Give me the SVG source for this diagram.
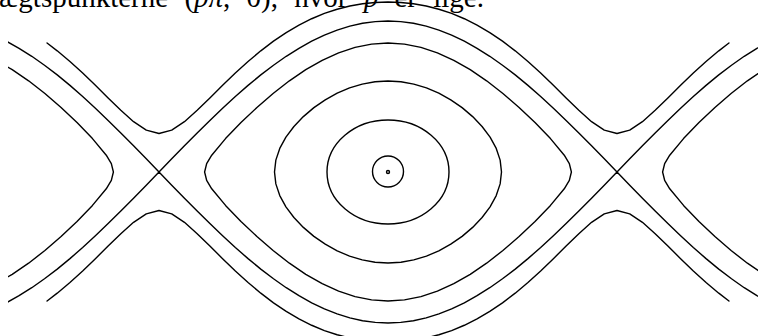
<svg xmlns="http://www.w3.org/2000/svg" width="758" height="336" viewBox="0 0 758 336">
<style>
.c{fill:none;stroke:#000;stroke-width:1.4;stroke-linejoin:round;stroke-linecap:round}
.t{font-family:"Liberation Serif","Times New Roman",serif;font-size:29px;word-spacing:9px;fill:#000}
.i{font-style:italic}
</style>
<defs>
<clipPath id="clip"><rect x="8" y="0" width="760" height="336"/></clipPath>
<path id="e5" d="M0,-129 L16.47,-127.9 L32.93,-124.6 L49.38,-119.2 L65.81,-111.7 L82.22,-102.3 L98.6,-91.2 L114.9,-78.5 L131.07,-64.5 L147.02,-49.4 L162.47,-33.4 L176.27,-16.8 L181.34,-8.44 L183.4,0 L181.34,8.44 L176.27,16.8 L162.47,33.4 L147.02,49.4 L131.07,64.5 L114.9,78.5 L98.6,91.2 L82.22,102.3 L65.81,111.7 L49.38,119.2 L32.93,124.6 L16.47,127.9 L0,129 L-16.47,127.9 L-32.93,124.6 L-49.38,119.2 L-65.81,111.7 L-82.22,102.3 L-98.6,91.2 L-114.9,78.5 L-131.07,64.5 L-147.02,49.4 L-162.47,33.4 L-176.27,16.8 L-181.34,8.44 L-183.4,0 L-181.34,-8.44 L-176.27,-16.8 L-162.47,-33.4 L-147.02,-49.4 L-131.07,-64.5 L-114.9,-78.5 L-98.6,-91.2 L-82.22,-102.3 L-65.81,-111.7 L-49.38,-119.2 L-32.93,-124.6 L-16.47,-127.9 Z"/>
<path id="e4" d="M0,-91 L12.94,-90.22 L25.78,-87.9 L38.44,-84.07 L50.81,-78.81 L62.76,-72.19 L74.1,-64.35 L84.64,-55.4 L94.07,-45.5 L102.08,-34.82 L108.24,-23.55 L112.15,-11.88 L113.5,0 L112.15,11.88 L108.24,23.55 L102.08,34.82 L94.07,45.5 L84.64,55.4 L74.1,64.35 L62.76,72.19 L50.81,78.81 L38.44,84.07 L25.78,87.9 L12.94,90.22 L0,91 L-12.94,90.22 L-25.78,87.9 L-38.44,84.07 L-50.81,78.81 L-62.76,72.19 L-74.1,64.35 L-84.64,55.4 L-94.07,45.5 L-102.08,34.82 L-108.24,23.55 L-112.15,11.88 L-113.5,0 L-112.15,-11.88 L-108.24,-23.55 L-102.08,-34.82 L-94.07,-45.5 L-84.64,-55.4 L-74.1,-64.35 L-62.76,-72.19 L-50.81,-78.81 L-38.44,-84.07 L-25.78,-87.9 L-12.94,-90.22 Z"/>
<path id="sep" d="M-381.7,-130.8 L-368.94,-123.7 L-356.22,-115.7 L-343.5,-106.8 L-330.78,-97.1 L-318.05,-86.6 L-305.33,-75.5 L-292.61,-63.8 L-279.89,-51.6 L-267.17,-39.1 L-254.44,-26.2 L-241.72,-13.2 L-229,0 L-216.27,-13.2 L-203.55,-26.2 L-190.83,-39.1 L-178.11,-51.6 L-165.39,-63.8 L-152.66,-75.5 L-139.94,-86.6 L-127.22,-97.1 L-114.5,-106.8 L-101.78,-115.7 L-89.05,-123.7 L-76.33,-130.8 L-63.61,-136.9 L-50.89,-141.9 L-38.17,-145.9 L-25.44,-148.7 L-12.72,-150.4 L0,-151 L12.72,-150.4 L25.44,-148.7 L38.17,-145.9 L50.89,-141.9 L63.61,-136.9 L76.33,-130.8 L89.05,-123.7 L101.78,-115.7 L114.5,-106.8 L127.22,-97.1 L139.94,-86.6 L152.66,-75.5 L165.39,-63.8 L178.11,-51.6 L190.83,-39.1 L203.55,-26.2 L216.27,-13.2 L229,0 L241.72,-13.2 L254.44,-26.2 L267.17,-39.1 L279.89,-51.6 L292.61,-63.8 L305.33,-75.5 L318.05,-86.6 L330.78,-97.1 L343.5,-106.8 L356.22,-115.7 L368.94,-123.7 L381.7,-130.8"/>
<path id="run" d="M-340.95,-129 L-330.78,-121.17 L-318.05,-110.48 L-305.33,-98.91 L-292.61,-86.67 L-279.89,-74.07 L-267.17,-61.65 L-254.44,-50.34 L-241.72,-41.81 L-229,-38.5 L-216.27,-41.81 L-203.55,-50.34 L-190.83,-61.65 L-178.11,-74.07 L-165.39,-86.67 L-152.66,-98.91 L-139.94,-110.48 L-127.22,-121.17 L-114.5,-130.85 L-101.78,-139.44 L-89.05,-146.92 L-76.33,-153.27 L-63.61,-158.54 L-50.89,-162.76 L-38.17,-165.97 L-25.44,-168.22 L-12.72,-169.56 L0,-170 L12.72,-169.56 L25.44,-168.22 L38.17,-165.97 L50.89,-162.76 L63.61,-158.54 L76.33,-153.27 L89.05,-146.92 L101.78,-139.44 L114.5,-130.85 L127.22,-121.17 L139.94,-110.48 L152.66,-98.91 L165.39,-86.67 L178.11,-74.07 L190.83,-61.65 L203.55,-50.34 L216.27,-41.81 L229,-38.5 L241.72,-41.81 L254.44,-50.34 L267.17,-61.65 L279.89,-74.07 L292.61,-86.67 L305.33,-98.91 L318.05,-110.48 L330.78,-121.17 L340.95,-129"/>
</defs>
<rect width="758" height="336" fill="#fff"/>
<g id="phase-portrait" clip-path="url(#clip)">
<g transform="translate(388,172)">
<g id="running-orbits">
<use href="#run" class="c"/>
<use href="#run" class="c" transform="scale(1,-1)"/>
</g>
<g id="separatrix">
<use href="#sep" class="c"/>
<use href="#sep" class="c" transform="scale(1,-1)"/>
</g>
<g id="orbit-5">
<use href="#e5" class="c"/>
<use href="#e5" class="c" transform="translate(-458,0)"/>
<use href="#e5" class="c" transform="translate(458,0)"/>
</g>
<use id="orbit-4" href="#e4" class="c"/>
<ellipse id="orbit-3" class="c" cx="0" cy="0" rx="61" ry="52"/>
<circle id="orbit-2" class="c" cx="0" cy="-0.5" r="15.5"/>
<circle id="center" class="c" cx="0" cy="0" r="1.5"/>
</g>
</g>
<text class="t" x="-1" y="7">ægtspunkterne (<tspan class="i">pπ</tspan>, 0), hvor <tspan class="i">p</tspan> er lige.</text>
</svg>
